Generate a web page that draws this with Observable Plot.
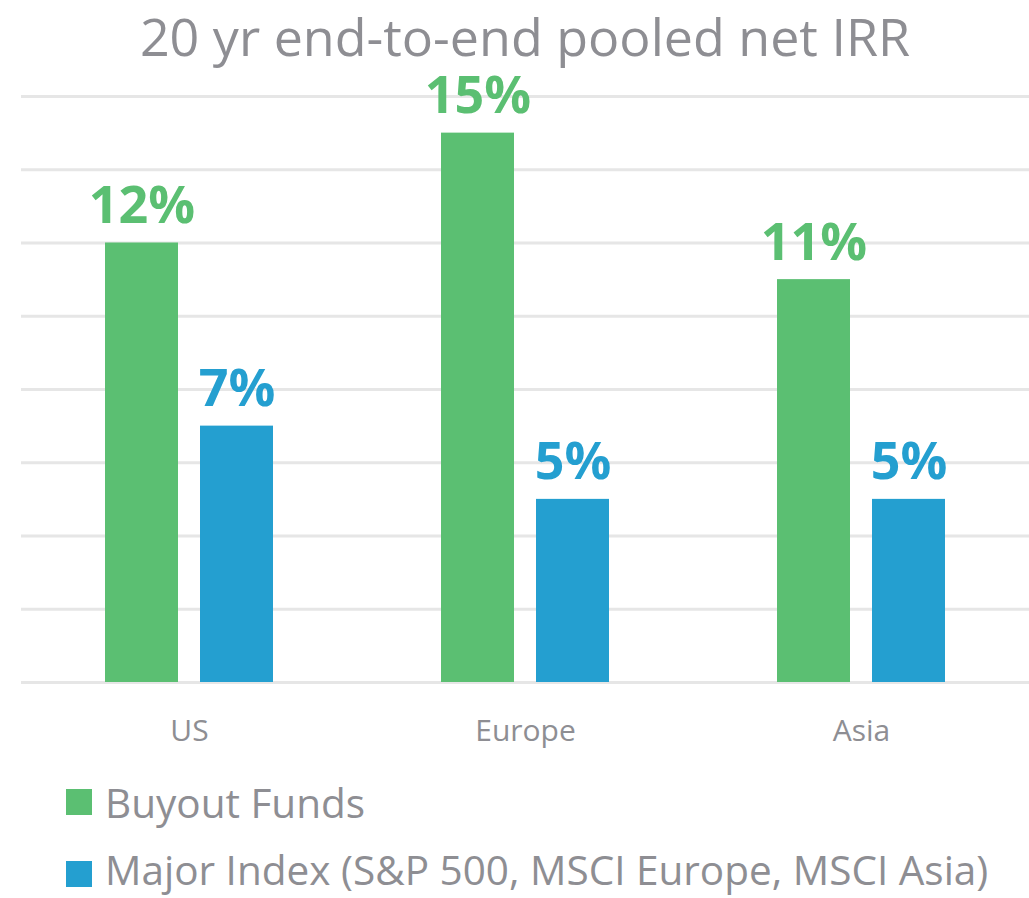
<!DOCTYPE html>
<html>
<head>
<meta charset="utf-8">
<script src="https://cdn.jsdelivr.net/npm/d3@7"></script>
<script src="https://cdn.jsdelivr.net/npm/@observablehq/plot@0.6"></script>
<style>
  html, body { margin: 0; padding: 0; background: #fff; font-family: "Open Sans", sans-serif; color: #8e8e93; }
  body { position: relative; width: 1029px; height: 898px; overflow: hidden; }
  #title { position: absolute; top: 0; left: 21px; width: 1008px; line-height: normal; text-align: center; font-size: 52px; white-space: nowrap; }
  #chart { position: absolute; top: 60px; left: 0; }
  .sw { position: absolute; left: 66px; width: 26px; height: 26px; }
  .lab { position: absolute; left: 105px; font-size: 40.5px; line-height: normal; white-space: nowrap; }
</style>
</head>
<body>
<div id="title">20 yr end-to-end pooled net IRR</div>
<div id="chart"></div>
<div id="legend"></div>
<script>
const regions = ["US", "Europe", "Asia"];
const series = ["Buyout Funds", "Major Index (S&P 500, MSCI Europe, MSCI Asia)"];
const buyout = [12, 15, 11];
const index = [7, 5, 5];
const gridTicks = [0, 2, 4, 6, 8, 10, 12, 14, 16];
const colors = ["#5bbf72", "#249fd0"];

const data = [];
regions.forEach((r, i) => {
  data.push({region: r, series: series[0], value: buyout[i]});
  data.push({region: r, series: series[1], value: index[i]});
});

const chart = Plot.plot({
  width: 1029,
  height: 700,
  marginTop: 36,
  marginBottom: 78,
  marginLeft: 21,
  marginRight: 0,
  style: {overflow: "visible", fontFamily: "Open Sans, sans-serif", background: "transparent"},
  fx: {domain: regions, padding: 0, axis: null},
  x: {domain: series, paddingInner: 0.229, paddingOuter: 0.8646, axis: null},
  y: {domain: [0, 16], axis: null},
  color: {domain: series, range: colors},
  marks: [
    Plot.gridY(gridTicks, {stroke: "#e6e6e6", strokeOpacity: 1, strokeWidth: 3}),
    Plot.barY(data, {fx: "region", x: "series", y: "value", fill: "series"}),
    Plot.text(data, {fx: "region", x: "series", y: "value", text: d => d.value + "%", fill: "series",
      lineAnchor: "bottom", dy: -20, fontSize: 52, fontWeight: "bold"}),
    Plot.axisFx({anchor: "bottom", tickSize: 0, tickPadding: 37, fontSize: 30, color: "#8e8e93", label: null})
  ]
});
document.getElementById("chart").appendChild(chart);

const legend = document.getElementById("legend");
const swatchTops = [789, 861];
const labelTops = [775, 842];
series.forEach((s, i) => {
  const sw = document.createElement("div");
  sw.className = "sw";
  sw.style.top = swatchTops[i] + "px";
  sw.style.background = colors[i];
  const lab = document.createElement("div");
  lab.className = "lab";
  lab.style.top = labelTops[i] + "px";
  lab.textContent = s;
  legend.appendChild(sw);
  legend.appendChild(lab);
});
</script>
</body>
</html>
